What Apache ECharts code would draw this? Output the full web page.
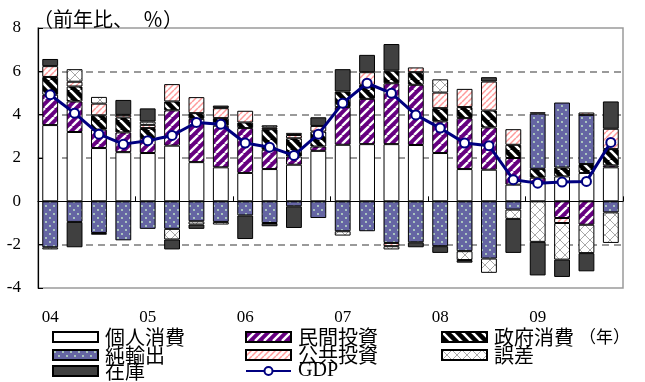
<!DOCTYPE html>
<html><head><meta charset="utf-8">
<script src="https://cdn.jsdelivr.net/npm/echarts@6/dist/echarts.min.js"></script>
<style>html,body{margin:0;padding:0;background:#fff}#c{width:645px;height:382px}</style>
</head><body><div id="c"></div>
<script>
const categories = ['04Q1','04Q2','04Q3','04Q4','05Q1','05Q2','05Q3','05Q4','06Q1','06Q2','06Q3','06Q4',
                    '07Q1','07Q2','07Q3','07Q4','08Q1','08Q2','08Q3','08Q4','09Q1','09Q2','09Q3','09Q4'];
const yearLabels = ['04','05','06','07','08','09'];
const yTickLabels = ['-4','-2','0','2','4','6','8'];

const privateConsumption = [3.52,3.20,2.46,2.27,2.23,2.57,1.81,1.57,1.31,1.49,1.69,2.33,2.61,2.64,2.64,2.60,2.23,1.49,1.46,0.77,0.84,1.15,1.31,1.57];
const privateInvestment  = [1.40,1.41,0.85,0.91,0.69,1.63,2.00,1.92,2.07,0.89,0.38,0.20,1.74,2.09,2.81,2.78,1.46,2.35,1.95,1.23,0.25,-0.77,-1.08,0.09];
const govConsumption     = [0.82,0.69,0.66,0.69,0.46,0.41,0.26,0.35,0.26,0.95,0.84,0.69,0.72,0.65,0.58,0.58,0.61,0.51,0.78,0.61,0.41,0.41,0.41,0.75];
const netExports         = [-2.12,-0.95,-1.46,-1.80,-1.27,-1.27,-0.92,-0.95,-0.65,-1.00,-0.23,-0.77,-1.38,-1.38,-1.92,-1.89,-2.07,-2.30,-2.64,-0.38,2.55,3.00,2.27,-0.51];
const publicInvestment   = [0.50,0.22,0.54,0.12,0.15,0.80,0.74,0.46,0.54,0.08,0.15,0.26,null,0.58,-0.15,0.22,0.72,0.84,1.34,0.72,0.06,-0.23,0.11,0.94];
const discrepancy        = [-0.10,0.58,0.31,null,0.15,-0.49,-0.15,-0.12,null,0.10,0.10,null,-0.20,null,-0.15,null,0.61,-0.41,-0.66,-0.43,-1.87,-1.69,-1.31,-1.41];
const inventories        = [0.33,-1.17,-0.08,0.69,0.61,-0.46,-0.20,0.12,-1.09,-0.15,-1.00,0.40,1.03,0.80,1.23,-0.23,-0.31,-0.12,0.20,-1.57,-1.55,-0.80,-0.84,1.26];
const gdp                = [4.92,4.07,3.10,2.64,2.80,3.04,3.64,3.56,2.69,2.50,2.12,3.10,4.53,5.45,4.99,3.99,3.38,2.69,2.57,1.00,0.84,0.89,0.92,2.72];

function tile(s, draw) {
  const c = document.createElement('canvas');
  c.width = s; c.height = s;
  const g = c.getContext('2d');
  draw(g, s);
  return { image: c, repeat: 'repeat' };
}
function slash(g, s) { for (let k = -1; k <= 1; k++) { g.beginPath(); g.moveTo(k*s, s); g.lineTo(k*s + s, 0); g.stroke(); } }
function backslash(g, s) { for (let k = -1; k <= 1; k++) { g.beginPath(); g.moveTo(k*s, 0); g.lineTo(k*s + s, s); g.stroke(); } }

const purplePat = tile(9, (g, s) => { g.fillStyle = '#660080'; g.fillRect(0,0,s,s); g.strokeStyle = '#ffffff'; g.lineWidth = 2.4; slash(g, s); });
const blackPat  = tile(10, (g, s) => { g.fillStyle = '#000000'; g.fillRect(0,0,s,s); g.strokeStyle = '#ffffff'; g.lineWidth = 2.6; backslash(g, s); });
const bluePat   = tile(8, (g, s) => { g.fillStyle = '#6565a3'; g.fillRect(0,0,s,s); g.fillStyle = '#c9f2c9';
  g.beginPath(); g.arc(2,2,0.9,0,Math.PI*2); g.fill(); g.beginPath(); g.arc(6,6,0.9,0,Math.PI*2); g.fill(); });
const pinkPat   = tile(6, (g, s) => { g.fillStyle = '#ffffff'; g.fillRect(0,0,s,s); g.strokeStyle = '#ff9a9a'; g.lineWidth = 1.5; slash(g, s); });
const crossPat  = tile(10, (g, s) => { g.fillStyle = '#ffffff'; g.fillRect(0,0,s,s); g.strokeStyle = '#a8a8a8'; g.lineWidth = 1; slash(g, s); backslash(g, s); });

const barBase = { type: 'bar', stack: 'total', barWidth: '65%', xAxisIndex: 0 };
function barSeries(name, data, color) {
  return Object.assign({}, barBase, { name, data, itemStyle: { color, borderColor: '#000', borderWidth: 1 } });
}

const series = [
  barSeries('個人消費', privateConsumption, '#ffffff'),
  barSeries('民間投資', privateInvestment, purplePat),
  barSeries('政府消費', govConsumption, blackPat),
  barSeries('純輸出', netExports, bluePat),
  barSeries('公共投資', publicInvestment, pinkPat),
  barSeries('誤差', discrepancy, crossPat),
  barSeries('在庫', inventories, '#404040'),
  { name: 'GDP', type: 'line', data: gdp, xAxisIndex: 0, z: 10,
    symbol: 'circle', symbolSize: 9,
    lineStyle: { color: '#000080', width: 3 },
    itemStyle: { color: '#ffffff', borderColor: '#000080', borderWidth: 2 } }
];

const cjk = 'Noto Sans CJK JP';
function legendAt(name, left, top, fam) {
  return { data: [name], left, top, padding: 0, orient: 'horizontal', selectedMode: false,
    itemWidth: 45, itemHeight: 10, icon: name === 'GDP' ? undefined : 'rect',
    textStyle: { fontFamily: fam || cjk, fontSize: 20, lineHeight: 18, color: '#000', padding: [0,0,0,2] } };
}

const option = {
  animation: false,
  backgroundColor: '#ffffff',
  grid: { left: 38, right: 22, top: 28, bottom: 94, show: true, borderColor: '#9a9a9a', borderWidth: 1.5, backgroundColor: 'transparent' },
  xAxis: [
    { type: 'category', data: categories, position: 'bottom',
      axisLine: { onZero: true, lineStyle: { color: '#000', width: 1.2 } },
      axisTick: { show: true, inside: true, length: 5, interval: (i) => i % 4 === 0, lineStyle: { color: '#000' } },
      axisLabel: { show: false }, splitLine: { show: false } },
    { type: 'category', data: categories, position: 'bottom',
      axisLine: { show: false, onZero: false }, axisTick: { show: false },
      axisLabel: { interval: 0, margin: 21, fontFamily: 'Liberation Serif', fontSize: 17, color: '#000',
        formatter: (v, i) => (i % 4 === 0 ? yearLabels[i / 4] : '') } }
  ],
  yAxis: {
    type: 'value', min: -4, max: 8, interval: 2,
    axisLine: { show: true, lineStyle: { color: '#000', width: 1.2 } },
    axisTick: { show: true, inside: true, length: 5, lineStyle: { color: '#000' } },
    axisLabel: { margin: 17, fontFamily: 'Liberation Serif', fontSize: 17, color: '#000',
      formatter: (v) => yTickLabels[Math.round((v + 4) / 2)] },
    splitLine: { show: true, lineStyle: { type: [7, 5], width: 1.5,
      color: ['rgba(0,0,0,0)', '#7a7a7a', 'rgba(0,0,0,0)', '#7a7a7a', '#7a7a7a', '#7a7a7a', 'rgba(0,0,0,0)'] } }
  },
  legend: [
    legendAt('個人消費', 52, 327), legendAt('純輸出', 52, 345), legendAt('在庫', 52, 361),
    legendAt('民間投資', 245, 327), legendAt('公共投資', 245, 345), legendAt('GDP', 245, 361, 'Liberation Serif'),
    legendAt('政府消費', 441, 327), legendAt('誤差', 441, 345)
  ],
  graphic: [
    { type: 'text', left: 33, top: 9, style: { text: '（前年比、{p|％）}', fontFamily: cjk, fontSize: 20, fill: '#000',
      rich: { p: { fontFamily: cjk, fontSize: 20, padding: [0, 0, 0, 10] } } } },
    { type: 'text', left: 579, top: 328, style: { text: '（年）', fontFamily: cjk, fontSize: 17, fill: '#000' } }
  ],
  series
};
const chart = echarts.init(document.getElementById('c'), null, { renderer: 'canvas' });
chart.setOption(option);
</script></body></html>
